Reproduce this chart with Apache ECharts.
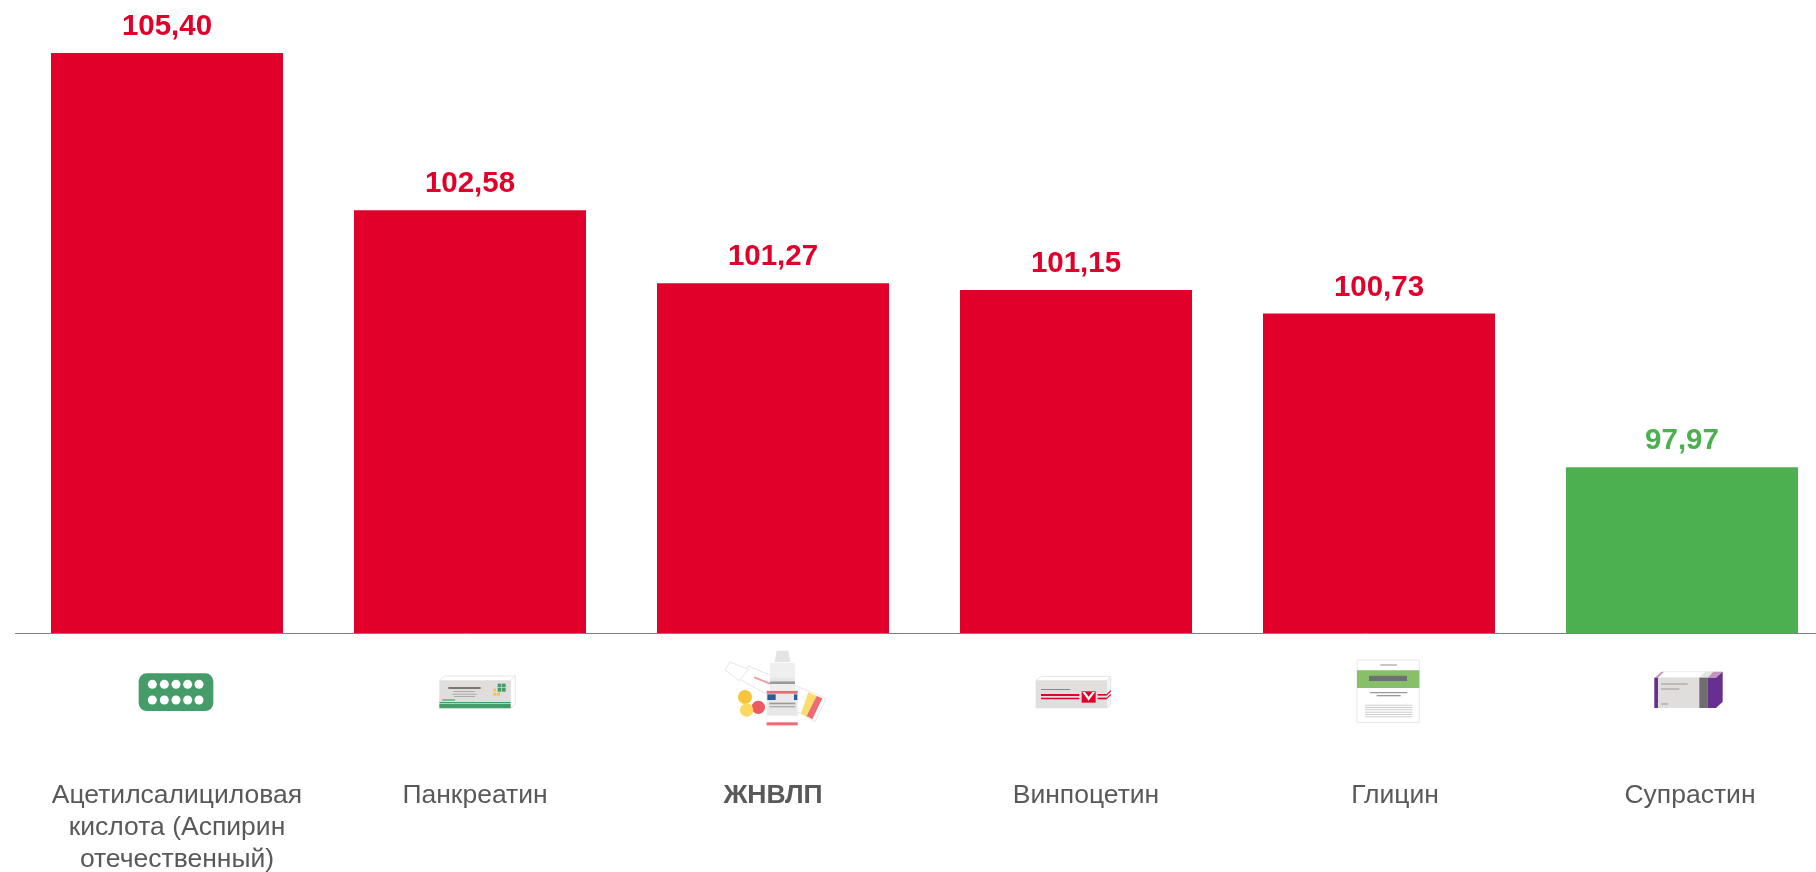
<!DOCTYPE html>
<html>
<head>
<meta charset="utf-8">
<title>ЖНВЛП</title>
<style>
  html, body { margin: 0; padding: 0; background: #fff; }
  #chart { width: 1816px; height: 872px; }
</style>
<script src="https://cdn.jsdelivr.net/npm/echarts@6/dist/echarts.min.js"></script>
</head>
<body>
<div id="chart"></div>
<script>
const categories = ['Ацетилсалициловая\nкислота (Аспирин\nотечественный)', 'Панкреатин', 'ЖНВЛП', 'Винпоцетин', 'Глицин', 'Супрастин']
const values = [105.40, 102.58, 101.27, 101.15, 100.73, 97.97]

const RED = '#e1002a'
const GREEN = '#4caf50'
const TEXT = '#595959'
const AXIS_MIN = 95
const AXIS_MAX = 106

// подписи в оригинале не совсем по центру столбцов (сдвиг вправо, px)
const labelShift = [10, 5, 0, 10, 16, 8]

const rect = (x, y, width, height, fill, r) => ({ type: 'rect', shape: { x, y, width, height, r: r || 0 }, style: { fill } })
const circle = (cx, cy, r, fill) => ({ type: 'circle', shape: { cx, cy, r }, style: { fill } })
const poly = (points, fill, stroke) => ({ type: 'polygon', shape: { points }, style: { fill, stroke: stroke || null, lineWidth: stroke ? 3 : 0 } })

// иконки рисуются в масштабе 3:1, origin — сдвиг от центра столбца и базовой линии
const icons = [
  {
    origin: [-67, 7],
    parts: () => {
      const out = [rect(116, 100, 224, 113, '#459c68', 24)]
      ;[133, 180].forEach(y => [157, 193, 228, 263, 297].forEach(x => out.push(circle(x, y, 13.5, '#fff'))))
      return out
    }
  },
  {
    origin: [-370, 7],
    parts: () => [
      poly([[1018, 122], [1034, 108], [1246, 108], [1232, 122]], '#fff', '#e6e6e6'),
      poly([[1232, 122], [1246, 108], [1246, 192], [1232, 205]], '#fff', '#e6e6e6'),
      rect(1018, 122, 214, 83, '#dfdedc'),
      rect(1018, 186, 214, 4, '#459c68'),
      rect(1018, 192, 214, 13, '#459c68'),
      rect(1027, 177, 38, 6, '#7dbb92'),
      rect(1045, 141, 97, 6, '#777'),
      rect(1060, 153, 65, 3, '#aaa'),
      rect(1057, 161, 73, 3, '#aaa'),
      rect(1062, 168, 63, 3, '#aaa'),
      rect(1193, 131, 11, 11, '#459c68'),
      rect(1206, 131, 11, 11, '#459c68'),
      rect(1193, 144, 11, 11, '#459c68'),
      rect(1206, 144, 11, 11, '#459c68'),
      rect(1180, 146, 8, 8, '#f6c33d'),
      rect(1180, 158, 9, 9, '#f6c33d'),
      rect(1191, 158, 9, 9, '#f6c33d')
    ]
  },
  {
    origin: [-93, -3],
    parts: () => [
      poly([[205, 108], [438, 205], [405, 275], [175, 145]], '#fff', '#e6e6e6'),
      poly([[150, 96], [205, 118], [178, 152], [135, 120]], '#fff', '#e6e6e6'),
      poly([[385, 187], [410, 198], [385, 262], [363, 250]], '#fbdc6e'),
      poly([[410, 198], [427, 205], [397, 268], [380, 258]], '#ef6b74'),
      poly([[222, 139], [275, 160], [273, 166], [222, 145]], '#f3a0a6'),
      circle(195, 201, 21, '#f8c53a'),
      circle(235, 232, 20, '#ef5a62'),
      circle(200, 240, 20, '#fbd860'),
      poly([[290, 62], [325, 62], [331, 96], [284, 96]], '#e4e4e4'),
      rect(270, 98, 75, 45, '#efefef'),
      rect(270, 143, 75, 10, '#e6e6e6'),
      rect(270, 154, 75, 8, '#999'),
      rect(270, 162, 75, 18, '#eee'),
      rect(260, 180, 93, 106, '#e8e8e8'),
      rect(260, 183, 93, 8, '#ef6b74'),
      rect(262, 193, 25, 17, '#2d5a9e'),
      rect(342, 193, 10, 17, '#2d5a9e'),
      rect(268, 218, 78, 5, '#999'),
      rect(268, 228, 78, 4, '#aaa'),
      rect(260, 257, 93, 20, '#fff'),
      rect(260, 277, 93, 9, '#ef6b74')
    ]
  },
  {
    origin: [-396, -3],
    parts: () => [
      poly([[1067, 152], [1085, 139], [1292, 139], [1280, 152]], '#fff', '#e6e6e6'),
      poly([[1280, 152], [1292, 139], [1292, 222], [1280, 235]], '#f4f4f4', '#e6e6e6'),
      rect(1067, 152, 213, 83, '#e0dfdd'),
      rect(1083, 177, 88, 3, '#888'),
      rect(1083, 192, 115, 6, RED),
      rect(1083, 203, 115, 5, RED),
      rect(1205, 184, 42, 34, RED),
      poly([[1207, 186], [1245, 186], [1226, 212]], '#fff'),
      poly([[1215, 186], [1237, 186], [1226, 200]], RED),
      rect(1253, 192, 27, 5, RED),
      rect(1253, 203, 27, 5, RED),
      poly([[1280, 192], [1292, 180], [1292, 185], [1280, 197]], RED),
      poly([[1280, 203], [1292, 191], [1292, 196], [1280, 208]], RED)
    ]
  },
  {
    origin: [-59, 7],
    parts: () => {
      const out = [
        { type: 'rect', shape: { x: 111, y: 60, width: 187, height: 188 }, style: { fill: '#fff', stroke: '#e8e8e8', lineWidth: 3 } },
        rect(111, 91, 187, 53, '#88c06a'),
        rect(147, 107, 114, 16, '#707070'),
        rect(181, 73, 50, 4, '#aaa'),
        rect(150, 156, 112, 4, '#999'),
        rect(170, 165, 72, 4, '#999')
      ]
      ;[194, 201, 208, 215, 222, 229].forEach(y => out.push(rect(135, y, 142, 3, '#ccc')))
      return out
    }
  },
  {
    origin: [-362, 7],
    parts: () => [
      poly([[1012, 113], [1032, 95], [1208, 95], [1188, 113]], '#fff', '#eee'),
      poly([[1005, 113], [1024, 95], [1032, 95], [1014, 113]], '#c596b8'),
      poly([[1138, 113], [1155, 95], [1180, 95], [1163, 113]], '#e4e4e4'),
      poly([[1163, 113], [1180, 95], [1208, 95], [1188, 113]], '#c596b8'),
      rect(1003, 113, 185, 91, '#dfdedc'),
      rect(1003, 113, 11, 91, '#673090'),
      rect(1138, 113, 25, 91, '#6e6e6e'),
      poly([[1163, 113], [1188, 113], [1208, 95], [1208, 185], [1188, 204], [1163, 204]], '#673090'),
      rect(1023, 130, 80, 4, '#aaa'),
      rect(1023, 145, 55, 4, '#aaa'),
      rect(1023, 190, 20, 4, '#aaa')
    ]
  }
]

const labelRich = {}
categories.forEach((c, i) => {
  labelRich['c' + i] = {
    fontFamily: '"Liberation Sans", Arial, sans-serif',
    fontSize: 26.5,
    lineHeight: 32,
    color: TEXT,
    fontWeight: c === 'ЖНВЛП' ? 'bold' : 'normal',
    padding: [0, 0, 0, labelShift[i] * 2]
  }
})

const chart = echarts.init(document.getElementById('chart'))

chart.setOption({
  animation: false,
  backgroundColor: '#fff',
  // шаг столбцов 303 px, сетка выходит за правый край окна
  grid: { left: 15.5, top: 19.5, width: 1818, height: 613.5, containLabel: false, outerBoundsMode: 'none' },
  xAxis: {
    type: 'category',
    data: categories,
    axisTick: { show: false },
    axisLine: { lineStyle: { color: '#808080', width: 1 } },
    splitLine: { show: false },
    axisLabel: {
      interval: 0,
      margin: 147,
      hideOverlap: false,
      formatter: (value, index) => value.split('\n').map(line => `{c${index}|${line}}`).join('\n'),
      rich: labelRich
    }
  },
  yAxis: { type: 'value', min: AXIS_MIN, max: AXIS_MAX, show: false, splitLine: { show: false } },
  series: [
    {
      type: 'bar',
      barWidth: 232,
      data: values.map(v => {
        const color = v >= 100 ? RED : GREEN
        return { value: v, itemStyle: { color }, label: { color } }
      }),
      label: {
        show: true,
        position: 'top',
        distance: 11,
        fontFamily: '"Liberation Sans", Arial, sans-serif',
        fontSize: 29.5,
        fontWeight: 'bold',
        formatter: p => p.value.toFixed(2).replace('.', ',')
      }
    },
    {
      type: 'custom',
      silent: true,
      clip: false,
      data: categories.map((c, i) => [i, AXIS_MIN]),
      encode: { x: 0, y: 1 },
      renderItem: (params, api) => {
        const pos = api.coord([api.value(0), api.value(1)])
        const icon = icons[params.dataIndex]
        return {
          type: 'group',
          x: pos[0] + icon.origin[0],
          y: pos[1] + icon.origin[1],
          scaleX: 1 / 3,
          scaleY: 1 / 3,
          children: icon.parts()
        }
      }
    }
  ]
})

window.addEventListener('resize', () => chart.resize())
</script>
</body>
</html>
